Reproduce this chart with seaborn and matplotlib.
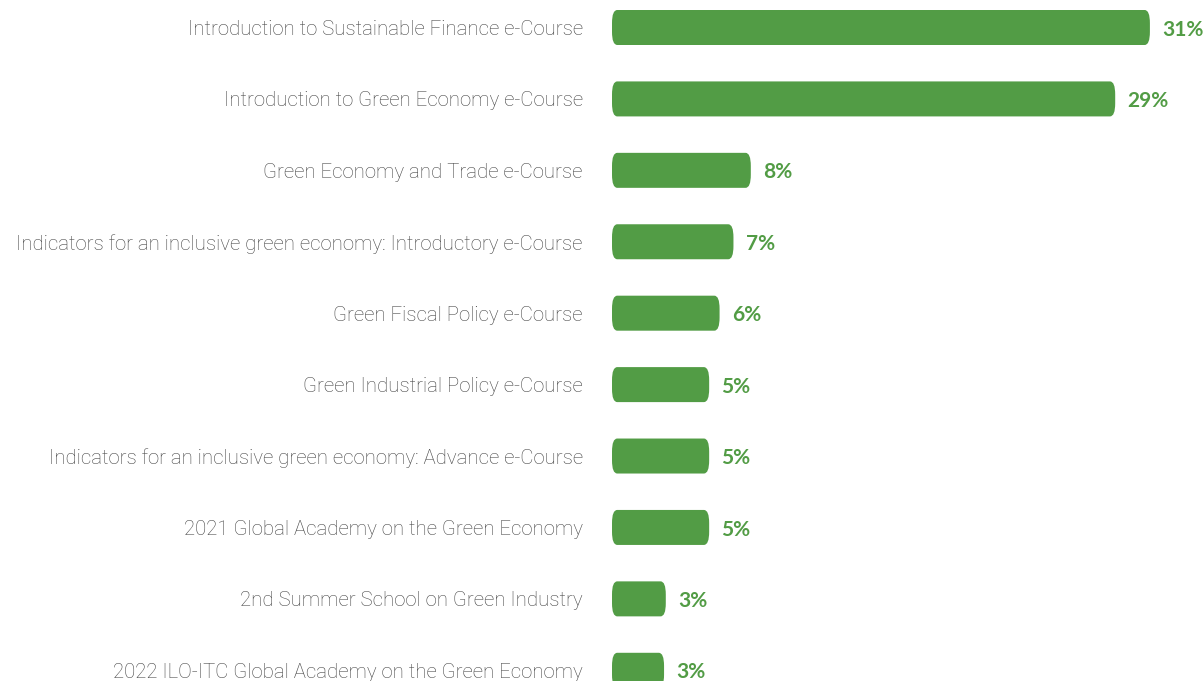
import matplotlib
matplotlib.use('Agg')
import matplotlib.pyplot as plt
import seaborn as sns
import pandas as pd
from matplotlib.patches import FancyBboxPatch

# Course share data
courses = [
    'Introduction to Sustainable Finance e-Course',
    'Introduction to Green Economy e-Course',
    'Green Economy and Trade e-Course',
    'Indicators for an inclusive green economy: Introductory e-Course',
    'Green Fiscal Policy e-Course',
    'Green Industrial Policy e-Course',
    'Indicators for an inclusive green economy: Advance e-Course',
    '2021 Global Academy on the Green Economy',
    '2nd Summer School on Green Industry',
    '2022 ILO-ITC Global Academy on the Green Economy',
]
shares = [31, 29, 8, 7, 6.2, 5.6, 5.6, 5.6, 3.1, 3.0]
share_labels = ['31%', '29%', '8%', '7%', '6%', '5%', '5%', '5%', '3%', '3%']

green = '#529c45'

df = pd.DataFrame({'course': courses, 'share': shares})

sns.set_style('white')
plt.rcParams['font.family'] = ['Lato', 'DejaVu Sans']

fig = plt.figure(figsize=(12.03, 6.81), dpi=100)
ax = fig.add_axes([612 / 1203, 0, 591 / 1203, 1])

sns.barplot(data=df, x='share', y='course', color=green, width=0.49, ax=ax,
            saturation=1)

# swap plain bars for rounded ones
for p in list(ax.patches):
    x, y = p.get_x(), p.get_y()
    w, h = p.get_width(), p.get_height()
    p.remove()
    ax.add_patch(FancyBboxPatch((x, y), w, h, boxstyle='round,pad=0,rounding_size=0.3',
                                mutation_aspect=0.49 / 0.8,
                                facecolor=green, edgecolor='none'))

for i, (v, lab) in enumerate(zip(shares, share_labels)):
    ax.text(v + 0.7, i + 0.03, lab, va='center', ha='left', fontsize=15,
            fontweight='bold', color=green)

ax.set_xlim(0, 34.06)
ax.set_ylim(9.15, -0.385)
ax.set_xlabel('')
ax.set_ylabel('')
ax.set_xticks([])
ax.tick_params(axis='y', length=0, pad=21)
for t in ax.get_yticklabels():
    t.set_fontsize(14.7)
    t.set_family(['Roboto', 'DejaVu Sans'])
    t.set_fontweight('light')
    t.set_color('#444444')
sns.despine(ax=ax, left=True, bottom=True)

fig.savefig('out.png', dpi=100)
